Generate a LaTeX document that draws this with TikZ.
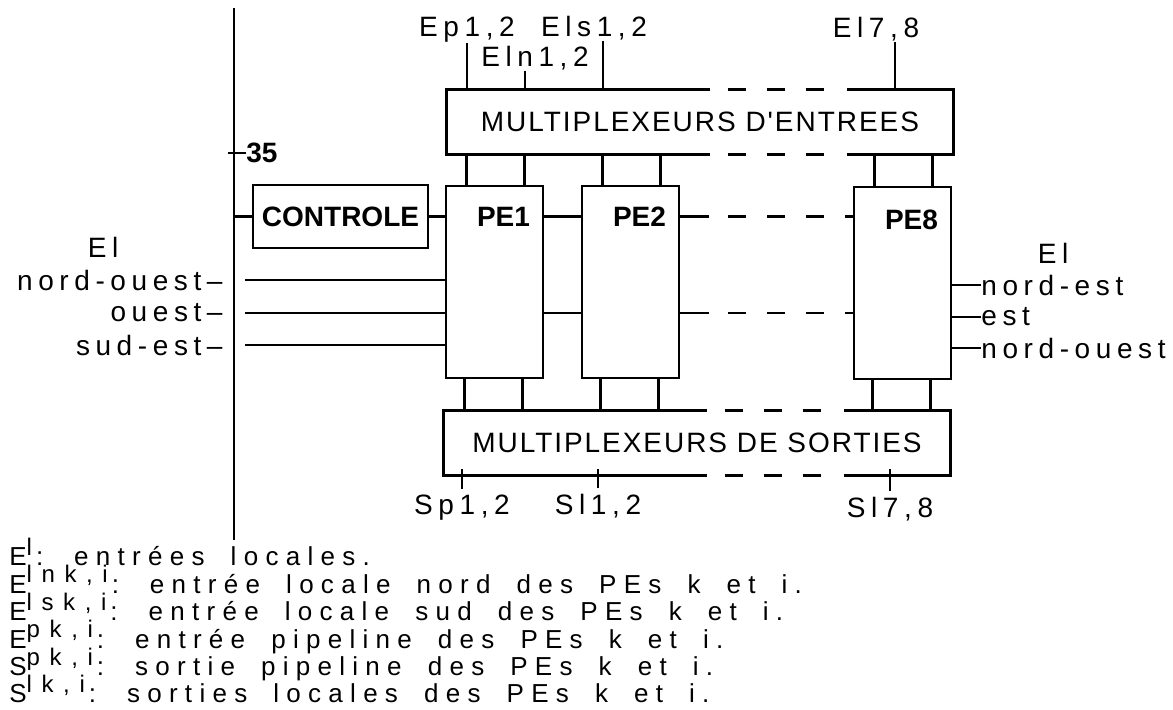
\documentclass[tikz,border=0pt]{standalone}
\usepackage{fontspec}
\setmainfont{Liberation Sans}
\newfontfamily\tagfont[LetterSpace=20]{Liberation Sans}
\newfontfamily\muxfont[LetterSpace=7]{Liberation Sans}
\newfontfamily\notefont[LetterSpace=28, WordSpace=1.8]{Liberation Sans}
\newfontfamily\expofont[LetterSpace=40]{Liberation Sans}
\usetikzlibrary{positioning}

\newcommand{\expo}[1]{\raisebox{0.4em}{\expofont\fontsize{12pt}{12pt}\selectfont #1}\hspace{2pt}}

\begin{document}
\begin{tikzpicture}[
    x=0.5pt, y=-0.5pt,
    wire/.style={draw=black, line width=1.4pt},
    dashlink/.style={draw=black, line width=1.4pt, dash pattern=on 9pt off 10.5pt},
    pebox/.style={rectangle, draw=black, line width=1.4pt, minimum width=48.5pt, minimum height=96pt, inner sep=0pt},
    ctrlbox/.style={rectangle, draw=black, line width=1.4pt, minimum width=87.5pt, minimum height=31.5pt, inner sep=0pt, font=\bfseries\fontsize{14pt}{16pt}\selectfont},
    mux/.style={rectangle, minimum width=253pt, minimum height=32pt, inner sep=0pt, font=\muxfont\fontsize{14pt}{16pt}\selectfont},
    pename/.style={inner sep=0pt, font=\bfseries\fontsize{14pt}{16pt}\selectfont},
    tag/.style={inner sep=0pt, font=\tagfont\fontsize{14pt}{16pt}\selectfont},
    note/.style={inner sep=0pt, anchor=base west, font=\notefont\fontsize{13pt}{15pt}\selectfont}
]
    \useasboundingbox (0,0) rectangle (1173,710);

    % Bus line on the left
    \coordinate (bustop) at (234,8);
    \coordinate (busbot) at (234,540);
    \draw[wire] (bustop) -- (busbot);
    \node[pename, anchor=west] (n35) at (246,153) {35};
    \draw[wire] (n35.west) -- ++(-9pt,0);

    % Processing elements
    \node[pebox, label={[pename, anchor=center, xshift=4.5pt, yshift=-16pt]north:PE1}] (pe1) at (494.5,282) {};
    \node[pebox, label={[pename, anchor=center, xshift=4.5pt, yshift=-16pt]north:PE2}] (pe2) at (630.5,282) {};
    \node[pebox, label={[pename, anchor=center, xshift=4.5pt, yshift=-17pt]north:PE8}] (pe8) at (902.5,283) {};

    % Control unit
    \node[ctrlbox] (ctrl) at (340.5,216.5) {CONTROLE};

    % Multiplexers (open in the middle)
    \node[mux] (muxin) at (700,122) {MULTIPLEXEURS D'ENTREES};
    \node[mux] (muxout) at (697,443) {MULTIPLEXEURS DE SORTIES\hspace{12pt}};
    \foreach \m in {muxin,muxout} {
        \draw[wire] (\m.north west) ++(131.5pt,0) -- (\m.north west) -- (\m.south west) -- ++(131.5pt,0);
        \draw[wire] (\m.north east) ++(-53pt,0) -- (\m.north east) -- (\m.south east) -- ++(-53pt,0);
        \draw[dashlink] (\m.north west) ++(140.5pt,0) -- ++(50pt,0);
        \draw[dashlink] (\m.south west) ++(140.5pt,0) -- ++(50pt,0);
    }

    % Links between multiplexers and PEs
    \foreach \pe in {pe1,pe2,pe8} {
        \draw[wire] ([xshift=-14pt]\pe.north) -- ([xshift=-14pt]\pe.north |- muxin.south);
        \draw[wire] ([xshift=15pt]\pe.north) -- ([xshift=15pt]\pe.north |- muxin.south);
        \draw[wire] ([xshift=-15pt]\pe.south) -- ([xshift=-15pt]\pe.south |- muxout.north);
        \draw[wire] ([xshift=14pt]\pe.south) -- ([xshift=14pt]\pe.south |- muxout.north);
    }

    % Top inputs
    \node[tag, anchor=base] (ep) at (467,37) {Ep1,2};
    \node[tag, anchor=base] (els) at (594,37) {Els1,2};
    \node[tag, anchor=base] (eln) at (535,67) {Eln1,2};
    \node[tag, anchor=base] (el78) at (876,38) {El7,8};
    \draw[wire] (ep.south) -- (ep.south |- muxin.north);
    \draw[wire] ([xshift=4.5pt]els.south) -- ([xshift=4.5pt]els.south |- muxin.north);
    \draw[wire] ([xshift=-5pt]eln.south) -- ([xshift=-5pt]eln.south |- muxin.north);
    \draw[wire] ([xshift=9.5pt]el78.south) -- ([xshift=9.5pt]el78.south |- muxin.north);

    % Bottom outputs
    \node[tag, anchor=base] (sp) at (462,515) {Sp1,2};
    \node[tag, anchor=base] (sl12) at (598,515) {Sl1,2};
    \node[tag, anchor=base] (sl78) at (890,518) {Sl7,8};
    \draw[wire] ([yshift=3pt]sp.north) -- ([yshift=3pt]sp.north |- muxout.south);
    \draw[wire] ([yshift=3pt]sl12.north) -- ([yshift=3pt]sl12.north |- muxout.south);
    \draw[wire] ([yshift=3pt]sl78.north) -- ([yshift=3pt]sl78.north |- muxout.south);

    % Left local inputs
    \node[tag] (elW) at (103,247) {El};
    \node[tag, anchor=east] (inNO) at (223,280) {nord-ouest–};
    \node[tag, anchor=east] (inO) at (223,313) {ouest–};
    \node[tag, anchor=east] (inSE) at (223,345) {sud-est–};
    \draw[wire] ([xshift=11pt]inNO.east) -- (inNO.east -| pe1.west);
    \draw[wire] ([xshift=11pt]inO.east) -- (inO.east -| pe1.west);
    \draw[wire] ([xshift=11pt]inSE.east) -- (inSE.east -| pe1.west);

    % Right local inputs
    \node[tag] (elE) at (1053,253) {El};
    \node[tag, anchor=west] (outNE) at (981,285) {nord-est};
    \node[tag, anchor=west] (outE) at (981,317) {est};
    \node[tag, anchor=west] (outNO) at (981,348) {nord-ouest};
    \draw[wire] (outNE.west) -- (outNE.west -| pe8.east);
    \draw[wire] (outE.west) -- (outE.west -| pe8.east);
    \draw[wire] (outNO.west) -- (outNO.west -| pe8.east);

    % Links along the PE row
    \draw[wire] (ctrl.west) -- (ctrl.west -| bustop);
    \draw[wire] (ctrl.east) -- (ctrl.east -| pe1.west);
    \draw[wire] (pe1.east |- ctrl.east) -- (pe2.west |- ctrl.east);
    \draw[wire] (pe2.east |- ctrl.east) -- ++(14.5pt,0);
    \draw[dashlink] ([xshift=24pt]pe2.east |- ctrl.east) -- ([xshift=-13pt]pe8.west |- ctrl.east);
    \draw[wire] (pe8.west |- ctrl.east) -- ++(-4pt,0);
    \draw[wire] (pe1.east |- inO.east) -- (pe2.west |- inO.east);
    \draw[wire] (pe2.east |- inO.east) -- ++(14.5pt,0);
    \draw[dashlink] ([xshift=24pt]pe2.east |- inO.east) -- ([xshift=-13pt]pe8.west |- inO.east);
    \draw[wire] (pe8.west |- inO.east) -- ++(-4pt,0);

    % Legend
    \node[note] (leg1) at (9,566) {E\expo{l}: entrées locales.};
    \node[note] (leg2) at (9,593.4) {E\expo{lnk,i}: entrée locale nord des PEs k et i.};
    \node[note] (leg3) at (9,620.8) {E\expo{lsk,i}: entrée locale sud des PEs k et i.};
    \node[note] (leg4) at (9,648.2) {E\expo{pk,i}: entrée pipeline des PEs k et i.};
    \node[note] (leg5) at (9,675.6) {S\expo{pk,i}: sortie pipeline des PEs k et i.};
    \node[note] (leg6) at (9,703) {S\expo{lk,i}: sorties locales des PEs k et i.};
\end{tikzpicture}
\end{document}
